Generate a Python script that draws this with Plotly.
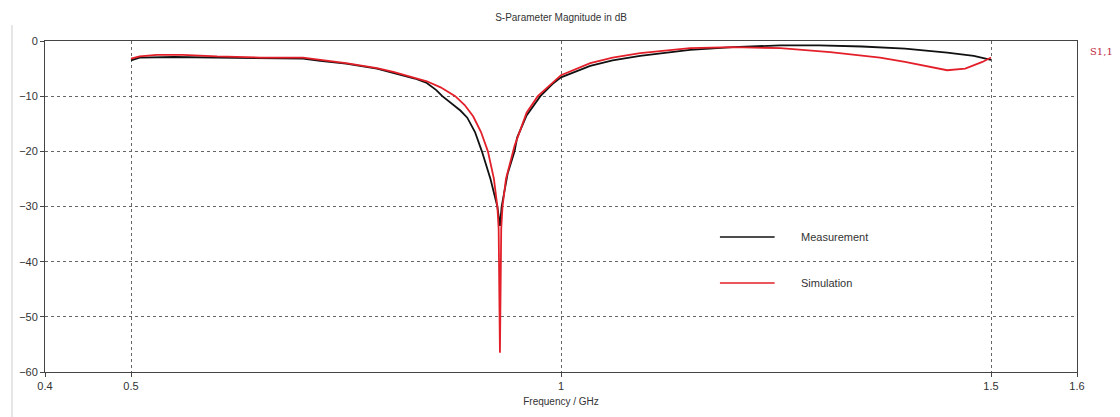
import plotly.graph_objects as go

# ---- data ----
meas_freq = [0.5, 0.51, 0.55, 0.6, 0.65, 0.7, 0.72, 0.75, 0.786, 0.805, 0.83, 0.844,
             0.855, 0.862, 0.872, 0.883, 0.891, 0.9, 0.908, 0.918, 0.926, 0.929,
             0.931, 0.938, 0.946, 0.949, 0.96, 0.976, 0.99, 1.0, 1.034, 1.06, 1.092,
             1.15, 1.2, 1.255, 1.3, 1.35, 1.4, 1.449, 1.48, 1.5]
meas_db = [-3.5, -3.0, -2.9, -3.0, -3.0, -3.2, -3.6, -4.1, -5.0, -5.8, -6.8, -7.6,
           -8.9, -10.0, -11.3, -12.6, -13.9, -16.5, -20.0, -25.0, -30.0, -33.5,
           -30.0, -24.0, -20.0, -17.5, -13.5, -10.0, -7.8, -6.6, -4.5, -3.5, -2.7,
           -1.6, -1.1, -0.8, -0.8, -1.0, -1.4, -2.1, -2.7, -3.4]

sim_freq = [0.5, 0.51, 0.53, 0.56, 0.6, 0.65, 0.7, 0.72, 0.75, 0.786, 0.805, 0.844,
            0.86, 0.877, 0.888, 0.898, 0.907, 0.915, 0.922, 0.926, 0.9275, 0.929,
            0.9305, 0.932, 0.936, 0.946, 0.96, 0.973, 0.99, 1.0, 1.034, 1.06, 1.092,
            1.15, 1.2, 1.255, 1.313, 1.342, 1.371, 1.4, 1.43, 1.449, 1.47, 1.49, 1.5]
sim_db = [-3.2, -2.8, -2.5, -2.5, -2.8, -3.0, -3.0, -3.4, -4.0, -4.9, -5.6, -7.3,
          -8.4, -10.0, -11.6, -13.7, -16.5, -20.0, -25.0, -30.0, -34.0, -56.5,
          -34.0, -30.0, -25.0, -19.0, -13.0, -10.0, -7.5, -6.2, -4.0, -3.0, -2.2,
          -1.3, -1.1, -1.3, -2.0, -2.5, -3.0, -3.8, -4.8, -5.3, -5.0, -3.8, -3.0]

x_ticks = [0.4, 0.5, 1, 1.5, 1.6]
x_ticklabels = ["0.4", "0.5", "1", "1.5", "1.6"]
y_ticks = [0, -10, -20, -30, -40, -50, -60]

series_names = ["Measurement", "Simulation"]
series_colors = ["#111111", "#e3202a"]

FONT = "Liberation Sans, Arial, sans-serif"

fig = go.Figure()
fig.add_trace(go.Scatter(x=meas_freq, y=meas_db, mode="lines", name=series_names[0],
                         line=dict(color=series_colors[0], width=1.8)))
fig.add_trace(go.Scatter(x=sim_freq, y=sim_db, mode="lines", name=series_names[1],
                         line=dict(color=series_colors[1], width=1.8)))

fig.update_layout(
    width=1120, height=417,
    margin=dict(l=45, r=43, t=41, b=45),
    paper_bgcolor="white", plot_bgcolor="white",
    font=dict(family=FONT, size=11, color="#333333"),
    title=dict(text="S-Parameter Magnitude in dB", x=0.5, xref="paper",
               y=0.958, yref="container", yanchor="middle",
               font=dict(size=10, color="#333333")),
    showlegend=False,
)

fig.update_xaxes(range=[0.4, 1.6], tickvals=x_ticks, ticktext=x_ticklabels,
                 showline=True, linecolor="#444444", linewidth=1, mirror=True,
                 ticks="outside", ticklen=4, tickcolor="#444444",
                 showgrid=True, gridcolor="#666666", griddash="dot", gridwidth=1,
                 zeroline=False,
                 title=dict(text="Frequency / GHz", standoff=6,
                            font=dict(size=10, color="#333333")))
fig.update_yaxes(range=[-60, 0], tickvals=y_ticks,
                 showline=True, linecolor="#444444", linewidth=1, mirror=True,
                 ticks="outside", ticklen=4, tickcolor="#444444",
                 showgrid=True, gridcolor="#666666", griddash="dot", gridwidth=1,
                 zeroline=False)

# legend drawn in-plot, matching the reference's long sample lines and wide spacing
legend_y = [0.408, 0.269]
for name, color, ly in zip(series_names, series_colors, legend_y):
    fig.add_shape(type="line", xref="paper", yref="paper", x0=0.654, x1=0.707,
                  y0=ly, y1=ly, line=dict(color=color, width=1.5))
    fig.add_annotation(text=name, xref="paper", yref="paper", x=0.731, y=ly,
                       xanchor="left", yanchor="middle", showarrow=False,
                       font=dict(size=11, color="#333333"))

fig.add_annotation(text="S1,1", xref="paper", yref="paper", x=1.011, y=0.967,
                   xanchor="left", yanchor="middle", showarrow=False,
                   font=dict(size=10, color="#c0283a", family="DejaVu Serif, serif"))

# thin frame line at the left edge of the picture
fig.add_shape(type="line", xref="paper", yref="paper", x0=-0.032, x1=-0.032,
              y0=-0.14, y1=1.048, line=dict(color="#cccccc", width=1))

# remove the default page margin so the 1120x417 figure fills the window exactly
fig.write_html("out.html",
               config={"displayModeBar": False},
               post_script="document.body.style.margin='0';"
                           "document.body.style.overflow='hidden';")
